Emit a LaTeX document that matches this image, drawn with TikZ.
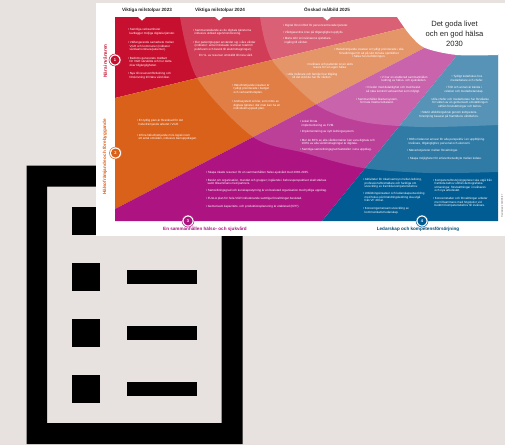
\documentclass[tikz,border=0pt]{standalone}
\usepackage{fontspec}
\setmainfont{Liberation Sans}
\definecolor{pagebg}{HTML}{E7E2DF}
\definecolor{zonered}{HTML}{C7102F}
\definecolor{zoneorange}{HTML}{D9611A}
\definecolor{zonemagenta}{HTML}{AE1481}
\definecolor{zoneblue}{HTML}{005C92}
\newcommand{\bu}{\textbullet\,}
\newcommand{\ind}{\hspace*{1.5pt}}
\tikzset{
  iconsq/.style={fill=black, minimum size=28pt, inner sep=0pt},
  iconbar/.style={fill=black, minimum width=70pt, minimum height=14pt, inner sep=0pt},
  note/.style={text=white, inner sep=0pt, anchor=north west, align=left, font=\fontsize{3}{3.5}\selectfont},
  notemid/.style={note, anchor=north, align=center},
  head/.style={inner sep=0pt, font=\fontsize{4.6}{5}\selectfont\bfseries, text=black!85},
  zonelabel/.style={inner sep=0pt, font=\fontsize{4.6}{5}\selectfont\bfseries},
  numring/.style={circle, fill=white, draw=#1, line width=.5pt, minimum size=12pt, inner sep=0pt},
  numdot/.style={circle, fill=#1, minimum size=9pt, inner sep=0pt, text=white, font=\fontsize{4}{4}\selectfont\bfseries}
}
\begin{document}
\begin{tikzpicture}[x=1pt, y=-1pt]
  \useasboundingbox (0,0) rectangle (505,445);
  \fill[pagebg] (0,0) rectangle (505,445);

  % Draw the icon
  \fill[black, even odd rule] (26.5,165.5) rectangle (242.5,444) (47,186.5) rectangle (221.5,423);
  \foreach \y/\name in {207/a,263/b,319/c,375/d} {
    \node[iconsq] (sq\name) at (86,\y+14) {};
    \node[iconbar] (bar\name) at (162,\y+14) {};
  }

  % Draw the poster
  \fill[white] (96,3) rectangle (505,236);
  \fill[zonered] (115,17) -- (420,17) -- (420,24) -- (115,98) -- cycle;
  \fill[zoneorange] (115,98) -- (420,24) -- (428,46) -- (115,209) -- cycle;
  \fill[zonemagenta] (115,209) -- (428,46) -- (458,54) -- (322,221) -- (115,221) -- cycle;
  \fill[zoneblue] (322,221) -- (458,54) -- (498,54) -- (498,221) -- cycle;

  % Lighter bands
  \fill[white, opacity=.19] plot[smooth] coordinates {(180,17) (197,78) (253,137) (305,153) (363,168) (430,173) (498,172)} -- (498,17) -- cycle;
  \fill[white, opacity=.19] plot[smooth] coordinates {(260,17) (272,60) (317,105) (363,122) (423,127) (498,125)} -- (498,17) -- cycle;
  \fill[white] plot[smooth] coordinates {(397,17) (410,35) (425,48) (457,55) (498,55)} -- (498,17) -- cycle;
  \fill[white] (138,17) -- (146,17) -- (142,20.5) -- cycle;
  \fill[white] (215,17) -- (223,17) -- (219,20.5) -- cycle;
  \fill[white] (323,17) -- (331,17) -- (327,20.5) -- cycle;

  % Add labels
  \node[head] (h1) at (147,10) {Viktiga milstolpar 2023};
  \node[head] (h2) at (220,10) {Viktiga milstolpar 2024};
  \node[head] (h3) at (327,10) {Önskad målbild 2025};
  \node[inner sep=0pt, align=center, font=\fontsize{7.6}{10.2}\selectfont, text=black!85] (title) at (454.5,33.5) {Det goda livet\\och en god hälsa\\2030};

  \node[zonelabel, text=zonered, rotate=90] (z1) at (105,61) {Nära invånaren};
  \node[zonelabel, text=zoneorange, rotate=90] (z2) at (105,157) {Hälsofrämjande och förebyggande};
  \node[zonelabel, text=zonemagenta] (z3) at (205,229) {En sammanhållen hälso- och sjukvård};
  \node[zonelabel, text=zoneblue!80!black] (z4) at (418,229.5) {Ledarskap och kompetensförsörjning};

  \node[numring=zonered] (r1) at (115,60) {};
  \node[numring=zoneorange] (r2) at (115.5,153) {};
  \node[numring=zonemagenta] (r3) at (188,221) {};
  \node[numring=zoneblue] (r4) at (422,221) {};
  \node[numdot=zonered] (n1) at (r1) {1};
  \node[numdot=zoneorange] (n2) at (r2) {2};
  \node[numdot=zonemagenta] (n3) at (r3) {3};
  \node[numdot=zoneblue] (n4) at (r4) {4};

  % Red zone
  \node[note] (ra) at (128,28.5) {\bu Samtliga verksamheter\\\ind kartlägger möjliga digitala tjänster.};
  \node[note] (rb) at (128,41.5) {\bu Välfungerande samarbete mellan\\\ind VGR och kommuner (indikator\\\ind vårdsamordnare/patienter).};
  \node[note] (rc) at (128,57) {\bu Bedöms genererats mätbart\\\ind för VGR särskilda och hur detta\\\ind ökar tillgängligheten.};
  \node[note] (rd) at (128,72.5) {\bu Nya till resursomfördelning och\\\ind förskrivning till Nära vård ökar.};
  \node[note] (re) at (193,29) {\bu Sammanställande av de digitala tjänsterna\\\ind inklusive utökad egenmonitorering.};
  \node[note] (rf) at (193,40.5) {\bu Fler patientgrupper använder sig i våra vårdar\\\ind (indikator: antal minskade resmiser totalt till\\\ind pub/kvarn och besök till akutmottagningar).};
  \node[note] (rg) at (199,54) {En \%- av resurser omställd till nära vård.};
  \node[note] (rh) at (283,24) {\bu Digital först införd för personcentrerade tjänster.};
  \node[note] (ri) at (283,30.5) {\bu Vårdgarantins krav på tillgänglighet uppfylls.};
  \node[note] (rj) at (283,37) {\bu Mäns dörr är invånarens självklara\\\ind ingång till vården.};

  % Orange zone
  \node[note] (oa) at (232,84) {\bu Hälsofrämjande insatser är\\\ind tydligt prioriterade i budget\\\ind och verksamhetsplan.};
  \node[note] (ob) at (232,100.5) {\bu Andrasystem är klar, som möts av\\\ind digitala tjänster, där man kan ha en\\\ind individuell uppsatt plan.};
  \node[notemid] (oc) at (312,72.5) {\bu Alla invånare och familjer har tillgång\\till det stöd de har för vården.};
  \node[notemid] (od) at (330,62.5) {\bu Invånare och patienter är en aktiv\\resurs för sin egen hälsa.};
  \node[notemid] (oe) at (369,48.5) {\bu Hälsofrämjande insatser är tydligt prioriterade i alla\\förvaltningar för att på sikt minska ojämlikhet\\i hälsa hos befolkningen.};
  \node[note] (of) at (137,119.5) {\bu En tydlig plan är förankrad för det\\\ind hälsofrämjande arbetet i VGR.};
  \node[note] (og) at (137,134) {\bu Införa hälsofrämjande mini-logisk inom\\\ind ett antal områden, inklusive barnuppdragen.};

  % Magenta zone
  \node[note] (ma) at (206,170.5) {\bu Skapa ökade resurser för en sammanhållen hälso-sjukvård med 2030-2035.};
  \node[note] (mb) at (206,178.5) {\bu Beslut om organisation, mandat och grupper; ingående i behovsperspektivet skall stärkas\\\ind samt tillsammans med partners.};
  \node[note] (mc) at (206,189) {\bu Samordningsgrad och kunskapsstyrning är en beslutad organisation med tydliga uppdrag.};
  \node[note] (md) at (206,197) {\bu FULLA plan för hela VGR inkluderande samtliga förvaltningar beslutad.};
  \node[note] (me) at (206,205) {\bu Gemensam kapacitets- och produktionsplanering är etablerad (KPP).};
  \node[note] (mf) at (300,120.5) {\bu Lokal första\\\ind implementering av FVM.};
  \node[note] (mg) at (300,130.5) {\bu Implementering av nytt ledningssystem.};
  \node[note] (mh) at (300,138.5) {\bu Mer än 80\% av alla vårdkontakter kan vara digitala och\\\ind 100\% av alla vårdmottagningar är digitala.};
  \node[note] (mi) at (300,148.5) {\bu Samtliga samordningsgrad fastställer i sina uppdrag.};
  \node[notemid] (mj) at (404,75.5) {\bu Vi har en etablerad sammanhållen\\ledning av hälso- och sjukvården.};
  \node[notemid] (mk) at (393,86.5) {\bu Vi leder med delaktighet och med beslut\\så nära kontroll verksamhet som möjligt.};
  \node[notemid] (ml) at (377,97.5) {\bu Sammanhållet likartat system,\\för hela Västra Götaland.};

  % Blue zone
  \node[notemid] (ba) at (467,75.5) {\bu Tydligt ledarfokus hos\\medarbetare och chefer.};
  \node[notemid] (bb) at (464,86.5) {\bu Tillit och annan är kända i\\relation och medarbetarskap.};
  \node[notemid] (bc) at (460,97.5) {\bu Alla chefer och medarbetare har förståelse\\för vikten av en gemensam omställningen\\utifrån förutsättningar och behov.};
  \node[notemid] (bd) at (449,111.5) {\bu Stärkt utbildningsbruk genom kompetens-\\försörjning baserat på framtidens vårdbehov.};
  \node[note] (be) at (407,138.5) {\bu Höfts mätas tar ansvar för alla perspektiv i en uppföljning.\\\ind Invånare, tillgänglighet, personal och ekonomi.};
  \node[note] (bf) at (407,149) {\bu Nätverkstjänster mellan förvaltningar.};
  \node[note] (bg) at (408,157.5) {\bu Skapa möjligheter för erfarenhetsutbyte mellan ledare.};
  \node[note] (bh) at (363,178.5) {\bu Aktiviteter för ökad samsyn mellan ledning,\\\ind professionsföreträdare och fackliga om\\\ind utveckling av framtida kompetensbehov.};
  \node[note] (bi) at (363,192.5) {\bu Utbildningsinsatser och ledarskapsutveckling\\\ind med fokus på förändringsledning ska utgå\\\ind från VF 40-tal.};
  \node[note] (bj) at (363,207.5) {\bu Koncerngemensam utveckling av\\\ind kommunikativt ledarskap.};
  \node[note] (bk) at (433,178.5) {\bu Kompetensförsörjningsplaner ska utgå från\\\ind framtida behov utifrån demografiska\\\ind utmaningar, förutsättningar i invånaren\\\ind och nya arbetssätt.};
  \node[note] (bl) at (433,197.5) {\bu Koncernstaber och förvaltningar arbetar\\\ind mer tillsammans med högskolor vid\\\ind bedömt kompetensbehov till invånare.};
  \node[text=black!70, inner sep=0pt, rotate=90, font=\fontsize{2.3}{3}\selectfont] (stamp) at (502,206) {Reviderad 2021/08/27};
\end{tikzpicture}
\end{document}
